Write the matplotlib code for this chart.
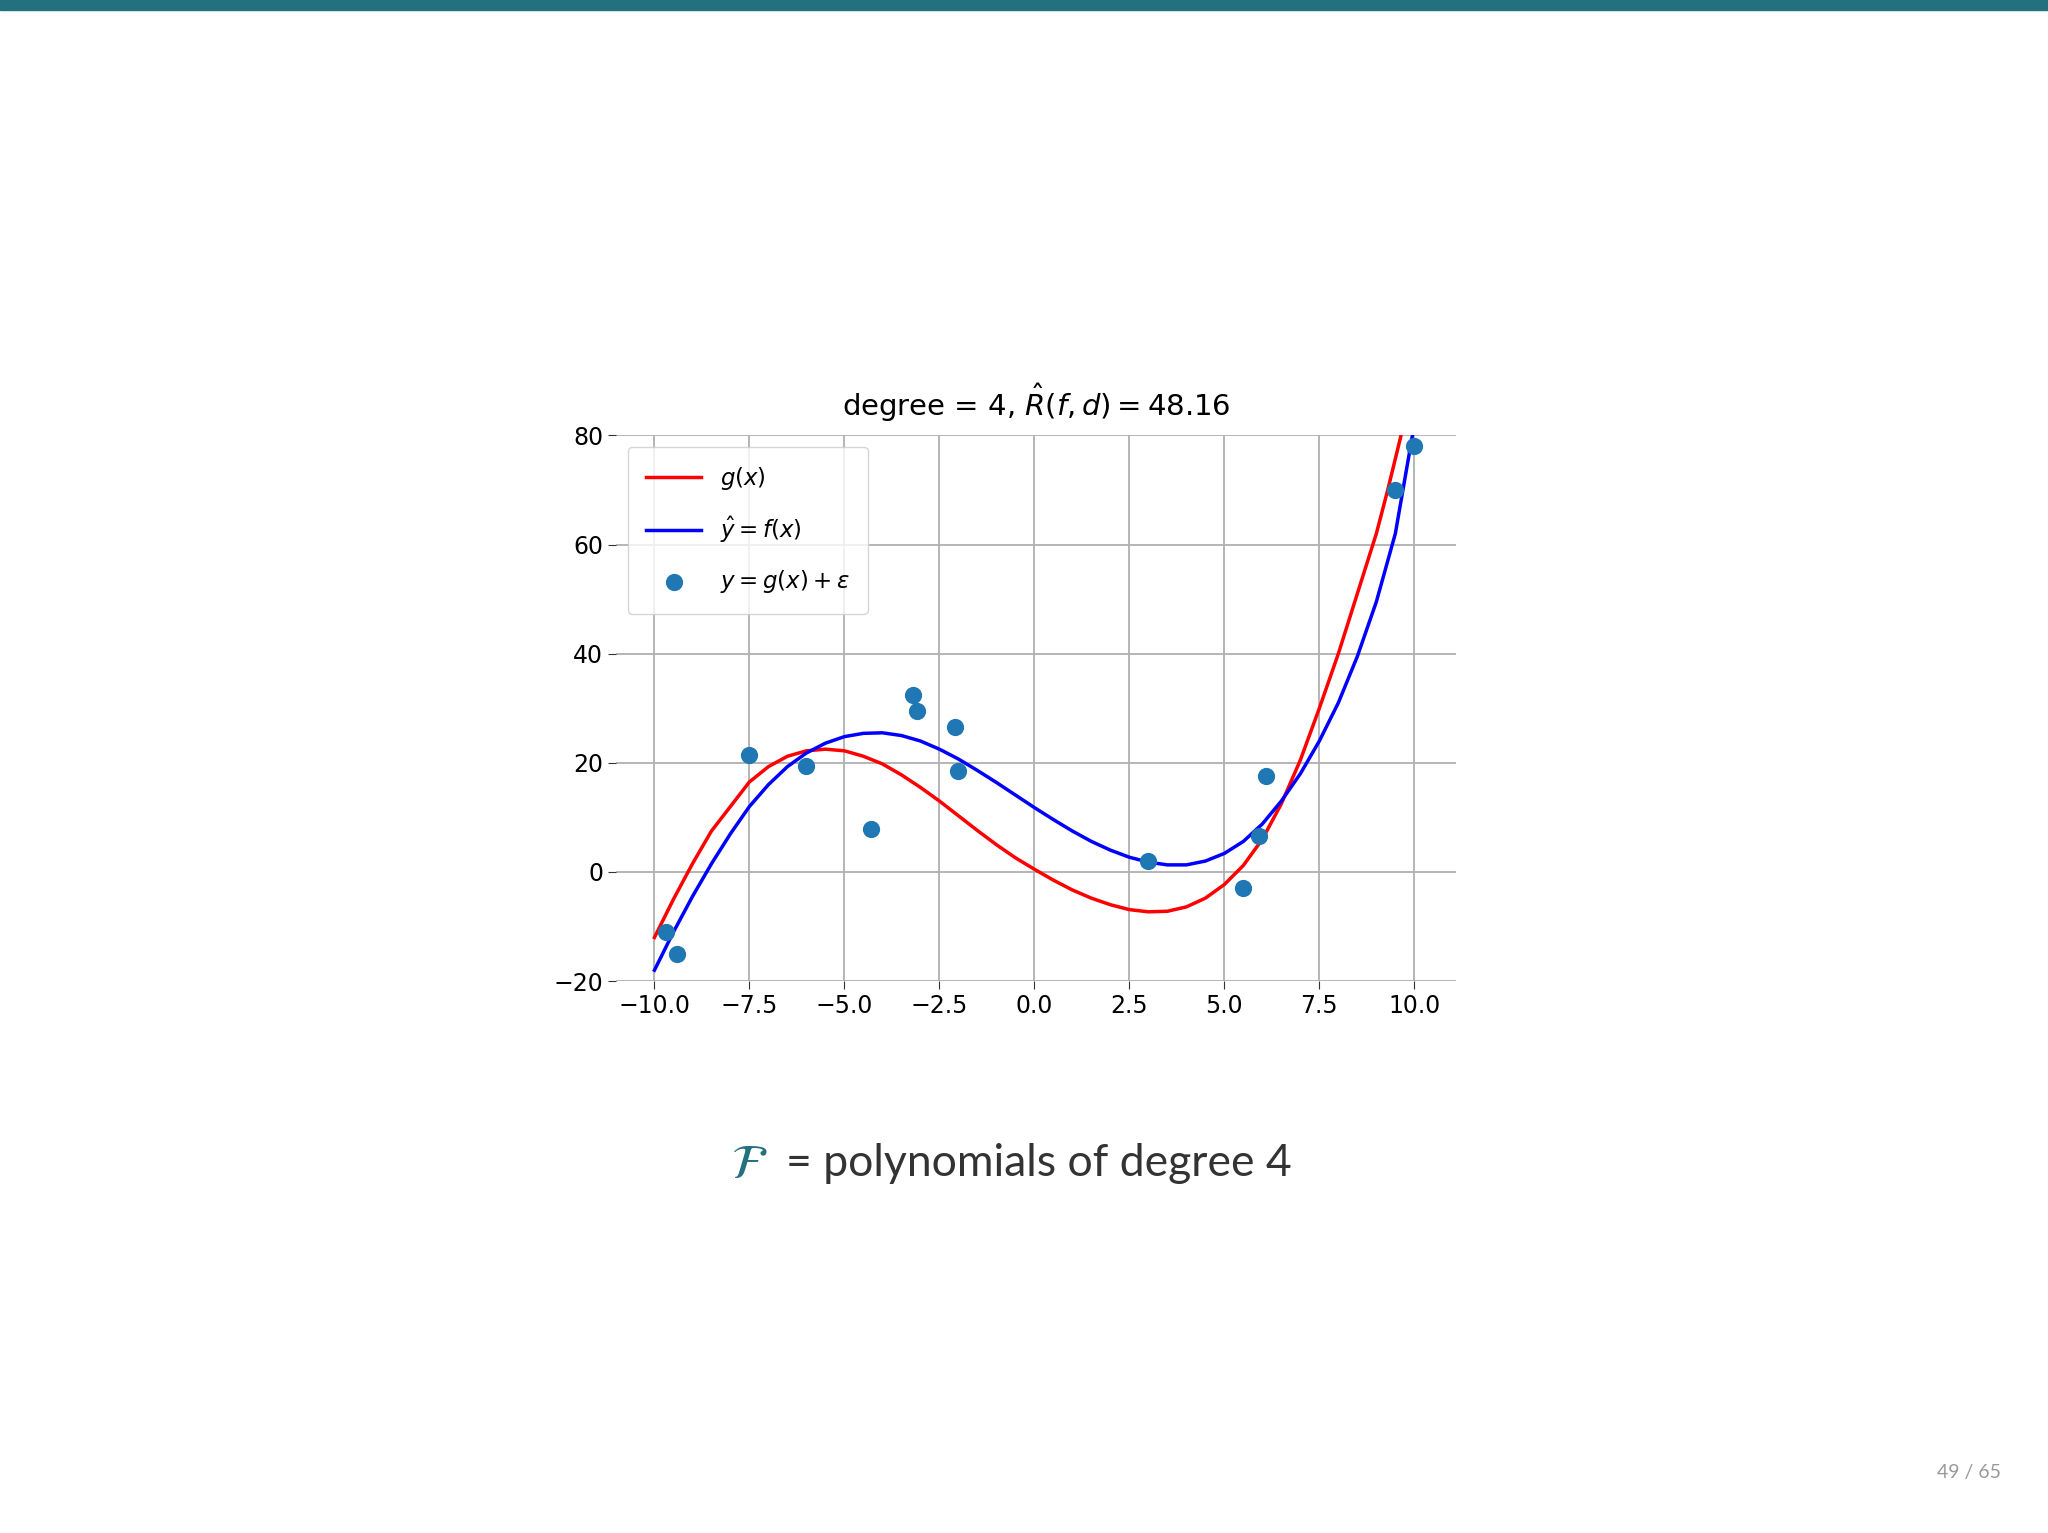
import matplotlib
matplotlib.use("Agg")
import matplotlib.pyplot as plt

# curve samples
x_g = [-10, -9.5, -9, -8.5, -8, -7.5, -7, -6.5, -6, -5.5, -5, -4.5, -4, -3.5, -3, -2.5, -2, -1.5, -1, -0.5, 0, 0.5, 1, 1.5, 2, 2.5, 3, 3.5, 4, 4.5, 5, 5.5, 6, 6.5, 7, 7.5, 8, 8.5, 9, 9.3, 9.65]
y_g = [-12, -5, 1.5, 7.5, 12, 16.5, 19.3, 21.2, 22.2, 22.5, 22.2, 21.2, 19.8, 17.8, 15.5, 13, 10.3, 7.6, 5, 2.6, 0.5, -1.5, -3.3, -4.8, -6, -6.9, -7.3, -7.2, -6.4, -4.8, -2.3, 1.2, 6, 12.5, 20.5, 30, 40, 51, 62, 70, 80]
x_f = [-10, -9.5, -9, -8.5, -8, -7.5, -7, -6.5, -6, -5.5, -5, -4.5, -4, -3.5, -3, -2.5, -2, -1.5, -1, -0.5, 0, 0.5, 1, 1.5, 2, 2.5, 3, 3.5, 4, 4.5, 5, 5.5, 6, 6.5, 7, 7.5, 8, 8.5, 9, 9.5, 9.95]
y_f = [-18, -11, -4.5, 1.5, 7, 12, 16, 19.3, 21.8, 23.6, 24.8, 25.4, 25.5, 25, 24, 22.5, 20.7, 18.6, 16.4, 14.1, 11.8, 9.6, 7.5, 5.6, 4, 2.7, 1.8, 1.3, 1.3, 2, 3.4, 5.6, 8.8, 13, 18, 24, 31, 39.5, 49.5, 62, 80]
x_pts = [-9.7, -9.4, -7.5, -6.0, -4.3, -3.2, -3.1, -2.1, -2.0, 3.0, 5.5, 5.9, 6.1, 9.5, 10.0]
y_pts = [-11, -15, 21.5, 19.5, 7.8, 32.5, 29.5, 26.5, 18.5, 2, -3, 6.5, 17.5, 70, 78]
x_ticks = [-10.0, -7.5, -5.0, -2.5, 0.0, 2.5, 5.0, 7.5, 10.0]
y_ticks = [-20, 0, 20, 40, 60, 80]

fig = plt.figure(figsize=(20.48, 15.33), dpi=100)
fig.patches.append(plt.Rectangle((0, 0.9935), 1, 0.0065, transform=fig.transFigure, color="#23707e"))

ax = fig.add_axes([0.301, 0.360, 0.410, 0.356])
ax.plot(x_g, y_g, color="red", lw=2.5, label="$g(x)$", zorder=3)
ax.plot(x_f, y_f, color="blue", lw=2.5, label=r"$\hat{y} = f(x)$", zorder=3)
ax.scatter(x_pts, y_pts, s=130, color="#1f77b4", label=r"$y = g(x) + \varepsilon$", zorder=4)
ax.set_xlim(-11.0, 11.1)
ax.set_ylim(-20, 80)
ax.set_xticks(x_ticks)
ax.set_xticklabels([f"{t:.1f}".replace("-", "\u2212") for t in x_ticks])
ax.set_yticks(y_ticks)
ax.set_yticklabels([f"{t}".replace("-", "\u2212") for t in y_ticks])
ax.tick_params(labelsize=17, length=6, color="#333333")
ax.grid(True, color="#b0b0b0", lw=1.3)
for s in ax.spines.values():
    s.set_visible(False)
ax.set_title(r"degree = 4, $\hat{R}(f, d) = 48.16$", fontsize=21, pad=14)
ax.legend(loc="upper left", fontsize=16.5, handlelength=2.4, borderpad=0.8, labelspacing=1.0)

fig.text(0.357, 0.241, r"$\mathcal{F}$", color="#23707e", fontsize=35, ha="left", va="center")
fig.text(0.384, 0.241, "= polynomials of degree 4", color="#333333", fontsize=32, family="Lato", ha="left", va="center")
fig.text(0.977, 0.036, "49 / 65", color="#999999", fontsize=14, family="Lato", ha="right")
fig.savefig("out.png", dpi=100)
